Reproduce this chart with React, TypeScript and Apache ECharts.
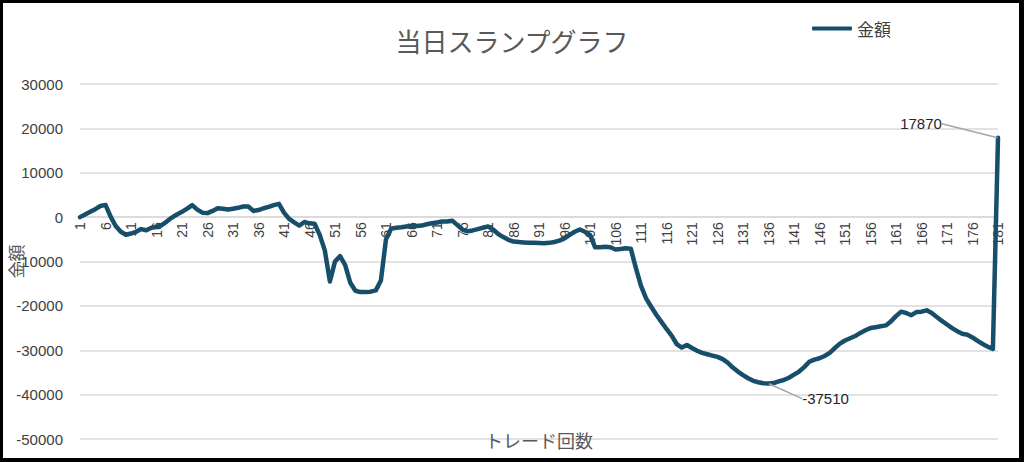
import React, { useEffect, useRef } from 'react';
import * as echarts from 'echarts';

// トレード回数 1..181
const trades: string[] = Array.from({ length: 181 }, (_, i) => String(i + 1));

// 金額 (読み取り値)
const amounts: number[] = [
  0, 600, 1200, 1800, 2500, 2750, 100, -2000, -3300, -3980,
  -3700, -3300, -2700, -2950, -2400, -2200, -1800, -1000, -100, 600,
  1200, 1900, 2700, 1700, 1000, 900, 1400, 2000, 1900, 1700,
  1900, 2100, 2400, 2400, 1400, 1600, 2000, 2300, 2700, 3000,
  1000, -400, -1200, -1900, -1100, -1400, -1500, -4000, -7500, -14500,
  -10000, -8800, -10800, -14800, -16600, -16900, -16900, -16800, -16500, -14300,
  -5000, -2600, -2400, -2300, -2100, -2000, -2000, -1900, -1600, -1400,
  -1200, -1000, -1000, -800, -1800, -2800, -3200, -3000, -2700, -2400,
  -2100, -2800, -3800, -4500, -5100, -5500, -5600, -5700, -5800, -5800,
  -5850, -5900, -5800, -5600, -5300, -4800, -4000, -3300, -2800, -3300,
  -4000, -6800, -6800, -6700, -6800, -7300, -7200, -7000, -7100, -11500,
  -15500, -18300, -20200, -22000, -23600, -25200, -26700, -28600, -29400, -28800,
  -29500, -30100, -30600, -30900, -31200, -31500, -32000, -32800, -33900, -34800,
  -35600, -36300, -36900, -37200, -37450, -37510, -37400, -37000, -36700, -36200,
  -35500, -34800, -33800, -32600, -32100, -31800, -31300, -30600, -29500, -28500,
  -27800, -27300, -26800, -26100, -25500, -25000, -24800, -24600, -24400, -23500,
  -22300, -21300, -21600, -22100, -21400, -21300, -21000, -21600, -22500, -23400,
  -24200, -25000, -25700, -26300, -26500, -27100, -27900, -28600, -29200, -29700,
  17870,
];

const yMin = -50000;
const yMax = 30000;
const yStep = 10000;

const LINE = '#174e6a';
const GRID = '#d9d9d9';
const LATIN = '"Liberation Sans", Arial, sans-serif';
const CJK = '"Noto Sans CJK JP", "Noto Sans", sans-serif';

const GRID_TOP = 84;
const GRID_BOTTOM = 23;
const HEIGHT = 462;

const App: React.FC = () => {
  const chartRef = useRef<HTMLDivElement>(null);

  useEffect(() => {
    if (!chartRef.current) return;
    const chart = echarts.init(chartRef.current, null, { renderer: 'svg' });

    // 最小値と最終値にラベル
    const minIdx = amounts.indexOf(Math.min(...amounts));
    const lastIdx = amounts.length - 1;
    const shift: Record<number, { dx: number; dy: number }> = {
      [minIdx]: { dx: 57, dy: 15 },
      [lastIdx]: { dx: -77, dy: -14 },
    };

    // 横軸を 0 の位置へ
    const plotH = HEIGHT - GRID_TOP - GRID_BOTTOM;
    const zeroOffset = -(plotH * (0 - yMin)) / (yMax - yMin);

    chart.setOption({
      animation: false,
      title: {
        text: '当日スランプグラフ',
        left: 'center',
        top: 22,
        textStyle: { fontFamily: CJK, fontSize: 26, fontWeight: 'normal', color: '#595959' },
      },
      legend: {
        data: ['金額'],
        left: 807,
        top: 15,
        icon: 'roundRect',
        itemWidth: 40,
        itemHeight: 4,
        textStyle: { fontFamily: CJK, fontSize: 17, color: '#404040' },
      },
      grid: {
        left: 80,
        right: 26,
        top: GRID_TOP,
        bottom: GRID_BOTTOM,
        containLabel: false,
        outerBoundsMode: 'none',
      },
      xAxis: {
        type: 'category',
        data: trades,
        boundaryGap: false,
        offset: zeroOffset,
        name: 'トレード回数',
        nameLocation: 'middle',
        nameGap: 214,
        nameMoveOverlap: false,
        nameTextStyle: { fontFamily: CJK, fontSize: 18, color: '#595959' },
        axisLine: { onZero: false, lineStyle: { color: GRID, width: 1.5 } },
        axisTick: { show: false },
        axisLabel: { interval: 4, rotate: 90, margin: 5, fontFamily: LATIN, fontSize: 14, color: '#404040' },
      },
      yAxis: {
        type: 'value',
        min: yMin,
        max: yMax,
        interval: yStep,
        name: '金額',
        nameLocation: 'middle',
        nameRotate: 90,
        nameGap: 56,
        nameMoveOverlap: false,
        nameTextStyle: { fontFamily: CJK, fontSize: 17, color: '#595959' },
        axisLabel: {
          margin: 17,
          fontFamily: LATIN,
          fontSize: 15,
          color: '#404040',
          formatter: (v: number) => String(v),
        },
        splitLine: { lineStyle: { color: GRID, width: 1.5 } },
      },
      series: [
        {
          name: '金額',
          type: 'line',
          data: amounts.map((v, i) => (shift[i] ? { value: v, label: { show: true } } : v)),
          symbol: 'circle',
          symbolSize: 1,
          showSymbol: true,
          showAllSymbol: true,
          itemStyle: { color: LINE },
          lineStyle: { color: LINE, width: 4.5, cap: 'round', join: 'round' },
          label: { show: false, position: 'inside', fontFamily: LATIN, fontSize: 15, color: '#262626' },
          labelLayout: (p: any) => shift[p.dataIndex] ?? {},
          labelLine: { show: true, lineStyle: { color: '#a6a6a6', width: 1.5 } },
        },
      ],
    });

    return () => chart.dispose();
  }, []);

  return (
    <div style={{ position: 'fixed', left: 0, top: 0, width: 1024, height: 462, background: '#fff' }}>
      <div ref={chartRef} style={{ position: 'absolute', left: 0, top: 0, width: 1024, height: 462 }} />
      <div
        style={{
          position: 'absolute',
          inset: 0,
          boxSizing: 'border-box',
          borderStyle: 'solid',
          borderColor: '#000',
          borderWidth: '3px 5px 4px 3px',
          pointerEvents: 'none',
        }}
      />
    </div>
  );
};

export default App;
